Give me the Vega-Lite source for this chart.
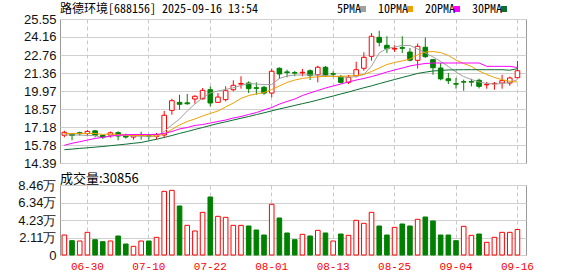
{
"$schema": "https://vega.github.io/schema/vega-lite/v6.json",
"padding": {"left": 17, "top": 2, "right": 0, "bottom": 0},
"background": "white",
"spacing": 1,
"config": {
  "view": {"stroke": "#999", "strokeWidth": 1},
  "axis": {"labelFont": "Liberation Sans", "labelColor": "#111", "ticks": false, "domain": false, "gridColor": "#d0d0d0", "labelFontSize": 13, "labelOverlap": false}
},
"datasets": {"k": [
{"d":"06-25","o":16.54,"h":16.89,"l":16.38,"c":16.77,"v":24170,"up":1,"ma5":16.56,"ma10":16.68,"ma20":15.76,"ma30":15.42},
{"d":"06-26","o":16.66,"h":16.72,"l":16.15,"c":16.52,"v":17320,"up":0,"ma5":16.56,"ma10":16.68,"ma20":15.92,"ma30":15.47},
{"d":"06-27","o":16.74,"h":16.82,"l":16.52,"c":16.66,"v":16920,"up":1,"ma5":16.56,"ma10":16.68,"ma20":16.04,"ma30":15.52},
{"d":"06-30","o":16.67,"h":16.95,"l":16.46,"c":16.84,"v":27400,"up":1,"ma5":16.52,"ma10":16.68,"ma20":16.17,"ma30":15.57},
{"d":"07-01","o":16.88,"h":16.95,"l":16.38,"c":16.53,"v":18530,"up":0,"ma5":16.52,"ma10":16.68,"ma20":16.29,"ma30":15.62},
{"d":"07-02","o":16.53,"h":16.56,"l":16.25,"c":16.38,"v":16120,"up":0,"ma5":16.33,"ma10":16.60,"ma20":16.38,"ma30":15.67},
{"d":"07-03","o":16.55,"h":16.83,"l":16.36,"c":16.73,"v":16920,"up":1,"ma5":16.52,"ma10":16.64,"ma20":16.47,"ma30":15.73},
{"d":"07-04","o":16.74,"h":16.84,"l":16.15,"c":16.48,"v":22970,"up":0,"ma5":16.52,"ma10":16.60,"ma20":16.54,"ma30":15.79},
{"d":"07-07","o":16.53,"h":16.66,"l":16.28,"c":16.40,"v":13300,"up":0,"ma5":16.52,"ma10":16.56,"ma20":16.58,"ma30":15.85},
{"d":"07-08","o":16.40,"h":16.60,"l":16.20,"c":16.53,"v":10480,"up":1,"ma5":16.48,"ma10":16.52,"ma20":16.60,"ma30":15.92},
{"d":"07-09","o":16.60,"h":16.82,"l":16.20,"c":16.52,"v":16920,"up":1,"ma5":16.46,"ma10":16.52,"ma20":16.60,"ma30":15.98},
{"d":"07-10","o":16.52,"h":16.64,"l":16.20,"c":16.44,"v":16920,"up":0,"ma5":16.46,"ma10":16.50,"ma20":16.60,"ma30":16.11},
{"d":"07-11","o":16.45,"h":16.72,"l":16.22,"c":16.60,"v":21350,"up":1,"ma5":16.46,"ma10":16.48,"ma20":16.60,"ma30":16.23},
{"d":"07-14","o":16.56,"h":18.42,"l":16.35,"c":18.09,"v":76950,"up":1,"ma5":16.83,"ma10":16.64,"ma20":16.68,"ma30":16.37},
{"d":"07-15","o":18.47,"h":19.37,"l":18.13,"c":19.22,"v":78160,"up":1,"ma5":17.34,"ma10":16.99,"ma20":16.83,"ma30":16.52},
{"d":"07-16","o":19.09,"h":19.68,"l":18.52,"c":18.94,"v":59230,"up":0,"ma5":17.80,"ma10":17.34,"ma20":17.03,"ma30":16.68},
{"d":"07-17","o":19.05,"h":19.74,"l":18.91,"c":18.98,"v":35860,"up":1,"ma5":18.42,"ma10":17.61,"ma20":17.14,"ma30":16.83},
{"d":"07-18","o":19.35,"h":19.64,"l":18.99,"c":19.56,"v":29010,"up":1,"ma5":18.96,"ma10":17.80,"ma20":17.30,"ma30":16.99},
{"d":"07-21","o":19.37,"h":20.20,"l":19.30,"c":20.02,"v":51570,"up":1,"ma5":19.43,"ma10":18.03,"ma20":17.37,"ma30":17.14},
{"d":"07-22","o":20.07,"h":20.33,"l":18.78,"c":19.04,"v":70100,"up":0,"ma5":19.82,"ma10":18.23,"ma20":17.49,"ma30":17.30},
{"d":"07-23","o":19.09,"h":19.81,"l":19.04,"c":19.50,"v":46740,"up":1,"ma5":19.97,"ma10":18.42,"ma20":17.61,"ma30":17.45},
{"d":"07-24","o":19.30,"h":20.33,"l":19.17,"c":19.99,"v":45530,"up":1,"ma5":20.09,"ma10":18.73,"ma20":17.72,"ma30":17.58},
{"d":"07-25","o":20.07,"h":20.80,"l":19.95,"c":20.41,"v":35860,"up":1,"ma5":20.22,"ma10":19.04,"ma20":17.88,"ma30":17.72},
{"d":"07-28","o":20.50,"h":21.11,"l":20.15,"c":20.55,"v":35860,"up":1,"ma5":20.40,"ma10":19.39,"ma20":17.99,"ma30":17.86},
{"d":"07-29","o":20.59,"h":20.72,"l":19.81,"c":20.15,"v":35050,"up":0,"ma5":20.55,"ma10":19.62,"ma20":18.15,"ma30":17.99},
{"d":"07-30","o":20.22,"h":20.64,"l":19.68,"c":20.18,"v":30220,"up":0,"ma5":20.51,"ma10":19.74,"ma20":18.30,"ma30":18.14},
{"d":"07-31","o":20.26,"h":20.36,"l":19.68,"c":19.81,"v":24170,"up":0,"ma5":20.47,"ma10":19.85,"ma20":18.50,"ma30":18.28},
{"d":"08-01","o":19.81,"h":21.70,"l":19.48,"c":21.50,"v":61240,"up":1,"ma5":20.47,"ma10":20.09,"ma20":18.69,"ma30":18.43},
{"d":"08-04","o":21.73,"h":21.80,"l":20.90,"c":21.29,"v":44720,"up":0,"ma5":20.94,"ma10":20.36,"ma20":18.96,"ma30":18.58},
{"d":"08-05","o":21.45,"h":21.62,"l":21.03,"c":21.40,"v":26590,"up":0,"ma5":21.13,"ma10":20.63,"ma20":19.16,"ma30":18.71},
{"d":"08-06","o":21.40,"h":21.52,"l":21.11,"c":21.36,"v":18530,"up":0,"ma5":21.21,"ma10":20.82,"ma20":19.35,"ma30":18.85},
{"d":"08-07","o":21.38,"h":21.68,"l":21.11,"c":21.42,"v":24980,"up":1,"ma5":21.21,"ma10":20.94,"ma20":19.62,"ma30":18.99},
{"d":"08-08","o":21.54,"h":21.64,"l":20.82,"c":21.16,"v":22970,"up":0,"ma5":21.21,"ma10":21.02,"ma20":19.82,"ma30":19.12},
{"d":"08-11","o":21.23,"h":21.93,"l":20.64,"c":21.81,"v":29810,"up":1,"ma5":21.21,"ma10":21.07,"ma20":20.01,"ma30":19.27},
{"d":"08-12","o":21.81,"h":21.91,"l":21.06,"c":21.16,"v":26590,"up":0,"ma5":21.17,"ma10":21.11,"ma20":20.20,"ma30":19.43},
{"d":"08-13","o":21.31,"h":21.50,"l":21.03,"c":21.27,"v":16920,"up":1,"ma5":21.11,"ma10":21.11,"ma20":20.36,"ma30":19.58},
{"d":"08-14","o":21.08,"h":21.21,"l":20.55,"c":20.64,"v":25380,"up":0,"ma5":21.06,"ma10":21.11,"ma20":20.51,"ma30":19.74},
{"d":"08-15","o":20.64,"h":21.21,"l":20.51,"c":21.03,"v":23770,"up":1,"ma5":21.03,"ma10":21.13,"ma20":20.67,"ma30":19.89},
{"d":"08-18","o":21.16,"h":22.24,"l":21.03,"c":21.62,"v":41900,"up":1,"ma5":21.09,"ma10":21.17,"ma20":20.82,"ma30":20.06},
{"d":"08-19","o":21.73,"h":22.97,"l":21.54,"c":22.58,"v":38280,"up":1,"ma5":21.25,"ma10":21.25,"ma20":20.94,"ma30":20.22},
{"d":"08-20","o":22.66,"h":24.46,"l":22.32,"c":24.21,"v":51570,"up":1,"ma5":21.91,"ma10":21.48,"ma20":21.09,"ma30":20.37},
{"d":"08-21","o":24.13,"h":24.64,"l":23.43,"c":23.74,"v":35050,"up":0,"ma5":22.92,"ma10":21.75,"ma20":21.25,"ma30":20.54},
{"d":"08-22","o":23.51,"h":24.21,"l":22.92,"c":23.25,"v":24170,"up":0,"ma5":23.26,"ma10":22.02,"ma20":21.44,"ma30":20.70},
{"d":"08-25","o":23.22,"h":23.51,"l":22.99,"c":23.27,"v":33440,"up":1,"ma5":23.38,"ma10":22.18,"ma20":21.60,"ma30":20.86},
{"d":"08-26","o":23.33,"h":24.21,"l":22.92,"c":23.28,"v":37470,"up":0,"ma5":23.50,"ma10":22.30,"ma20":21.75,"ma30":21.02},
{"d":"08-27","o":22.99,"h":23.30,"l":22.27,"c":22.36,"v":35050,"up":0,"ma5":23.50,"ma10":22.45,"ma20":21.91,"ma30":21.17},
{"d":"08-28","o":22.35,"h":23.65,"l":21.71,"c":23.43,"v":43110,"up":1,"ma5":23.23,"ma10":22.76,"ma20":22.02,"ma30":21.33},
{"d":"08-29","o":23.36,"h":24.11,"l":22.53,"c":22.63,"v":45930,"up":0,"ma5":22.92,"ma10":22.99,"ma20":22.10,"ma30":21.43},
{"d":"09-01","o":22.40,"h":22.45,"l":21.23,"c":21.77,"v":41100,"up":0,"ma5":22.61,"ma10":23.03,"ma20":22.14,"ma30":21.52},
{"d":"09-02","o":21.75,"h":22.14,"l":20.80,"c":20.91,"v":24170,"up":0,"ma5":22.26,"ma10":22.95,"ma20":22.14,"ma30":21.56},
{"d":"09-03","o":20.92,"h":21.37,"l":20.51,"c":20.77,"v":24170,"up":0,"ma5":21.87,"ma10":22.72,"ma20":22.14,"ma30":21.60},
{"d":"09-04","o":20.54,"h":20.98,"l":20.15,"c":20.50,"v":17320,"up":0,"ma5":21.44,"ma10":22.37,"ma20":22.14,"ma30":21.61},
{"d":"09-05","o":20.69,"h":20.85,"l":19.99,"c":20.66,"v":34650,"up":1,"ma5":21.09,"ma10":22.10,"ma20":22.14,"ma30":21.62},
{"d":"09-08","o":20.70,"h":20.92,"l":20.33,"c":20.66,"v":23770,"up":1,"ma5":20.86,"ma10":21.87,"ma20":22.14,"ma30":21.62},
{"d":"09-09","o":20.80,"h":20.92,"l":20.17,"c":20.33,"v":25380,"up":0,"ma5":20.67,"ma10":21.52,"ma20":22.14,"ma30":21.62},
{"d":"09-10","o":20.45,"h":20.67,"l":20.15,"c":20.48,"v":15310,"up":1,"ma5":20.55,"ma10":21.25,"ma20":21.88,"ma30":21.62},
{"d":"09-11","o":20.52,"h":20.67,"l":20.07,"c":20.56,"v":21350,"up":1,"ma5":20.51,"ma10":21.02,"ma20":21.88,"ma30":21.62},
{"d":"09-12","o":20.59,"h":21.23,"l":20.15,"c":20.77,"v":27400,"up":1,"ma5":20.55,"ma10":20.85,"ma20":21.88,"ma30":21.62},
{"d":"09-15","o":20.59,"h":21.09,"l":20.38,"c":20.98,"v":27400,"up":1,"ma5":20.63,"ma10":20.72,"ma20":21.88,"ma30":21.58},
{"d":"09-16","o":21.00,"h":22.30,"l":20.96,"c":21.54,"v":30856,"up":1,"ma5":20.85,"ma10":20.67,"ma20":21.79,"ma30":21.70}
]},
"vconcat": [
{
  "width": 466, "height": 144,
  "data": {"name": "k"},
  "title": {"text": "路德环境[688156] 2025-09-16 13:54", "anchor": "start", "frame": "group", "fontSize": 12, "fontWeight": "normal", "font": "'Noto Sans Mono CJK SC', 'Noto Sans CJK SC', monospace", "color": "#000", "offset": -3},
  "encoding": {
    "x": {"field": "d", "type": "ordinal", "sort": null,
      "scale": {"domain": ["06-25","06-26","06-27","06-30","07-01","07-02","07-03","07-04","07-07","07-08","07-09","07-10","07-11","07-14","07-15","07-16","07-17","07-18","07-21","07-22","07-23","07-24","07-25","07-28","07-29","07-30","07-31","08-01","08-04","08-05","08-06","08-07","08-08","08-11","08-12","08-13","08-14","08-15","08-18","08-19","08-20","08-21","08-22","08-25","08-26","08-27","08-28","08-29","09-01","09-02","09-03","09-04","09-05","09-08","09-09","09-10","09-11","09-12","09-15","09-16"], "paddingInner": 0, "paddingOuter": 0.34, "align": 0.1},
      "axis": {"values": ["06-30","07-10","07-22","08-01","08-13","08-25","09-04","09-16"], "labels": false, "ticks": false, "domain": false, "grid": true, "gridDash": [4, 3], "gridColor": "#c8c8c8", "title": null, "bandPosition": 0.5, "minExtent": 0, "maxExtent": 0}}
  },
  "layer": [
    {
      "mark": {"type": "rule", "strokeWidth": 1},
      "encoding": {
        "y": {"field": "h", "type": "quantitative", "scale": {"domain": [14.39, 25.55], "nice": false, "zero": false},
          "axis": {"values": [14.39, 15.78, 17.18, 18.57, 19.97, 21.36, 22.76, 24.16, 25.55], "tickCount": 9, "format": ".2f", "grid": true, "title": null, "labelPadding": 4, "labelOverlap": false}},
        "y2": {"field": "l"},
        "color": {"condition": {"test": "datum.c >= datum.o", "value": "#ff0000"}, "value": "#008000"}
      }
    },
    {
      "mark": {"type": "bar", "width": {"band": 0.6}, "strokeWidth": 1},
      "encoding": {
        "y": {"field": "o", "type": "quantitative"},
        "y2": {"field": "c"},
        "fill": {"condition": {"test": "datum.c >= datum.o", "value": "#ffffff"}, "value": "#008000"},
        "stroke": {"condition": {"test": "datum.c >= datum.o", "value": "#ff0000"}, "value": "#008000"}
      }
    },
    {
      "transform": [{"fold": ["ma5", "ma10", "ma20", "ma30"], "as": ["ma", "mv"]}],
      "mark": {"type": "line", "strokeWidth": 1},
      "encoding": {
        "y": {"field": "mv", "type": "quantitative"},
        "color": {"field": "ma", "type": "nominal",
          "scale": {"domain": ["ma5", "ma10", "ma20", "ma30"], "range": ["#a0a0a0", "#f0a000", "#ff00ff", "#0a6e30"]},
          "legend": {"orient": "none", "legendX": 297, "legendY": -16, "direction": "horizontal", "title": null,
            "symbolType": "square", "symbolSize": 4, "symbolStrokeWidth": 4,
            "labelFont": "'Noto Sans Mono CJK SC', 'Noto Sans CJK SC', monospace", "labelFontSize": 12, "labelColor": "#000",
            "labelExpr": "replace(datum.label, 'ma', '') + 'PMA'", "labelAlign": "right", "labelOffset": -8, "columnPadding": 5}}
      }
    }
  ]
},
{
  "width": 466, "height": 70,
  "data": {"name": "k"},
  "title": {"text": "成交量:30856", "anchor": "start", "frame": "group", "fontSize": 13, "fontWeight": "normal", "font": "Noto Sans CJK SC", "color": "#000", "offset": -7},
  "mark": {"type": "bar", "width": {"band": 0.6}, "strokeWidth": 1},
  "encoding": {
    "x": {"field": "d", "type": "ordinal", "sort": null,
      "scale": {"domain": ["06-25","06-26","06-27","06-30","07-01","07-02","07-03","07-04","07-07","07-08","07-09","07-10","07-11","07-14","07-15","07-16","07-17","07-18","07-21","07-22","07-23","07-24","07-25","07-28","07-29","07-30","07-31","08-01","08-04","08-05","08-06","08-07","08-08","08-11","08-12","08-13","08-14","08-15","08-18","08-19","08-20","08-21","08-22","08-25","08-26","08-27","08-28","08-29","09-01","09-02","09-03","09-04","09-05","09-08","09-09","09-10","09-11","09-12","09-15","09-16"], "paddingInner": 0, "paddingOuter": 0.34, "align": 0.1},
      "axis": {"values": ["06-30","07-10","07-22","08-01","08-13","08-25","09-04","09-16"], "labelAngle": 0, "labelFont": "Liberation Mono", "labelFontSize": 11, "labelColor": "#ff0000", "labelPadding": 5, "grid": true, "gridDash": [4, 3], "gridColor": "#c8c8c8", "title": null, "bandPosition": 0.5}},
    "y": {"field": "v", "type": "quantitative", "scale": {"domain": [0, 84600], "nice": false},
      "axis": {"values": [0, 21150, 42300, 63450, 84600], "tickCount": 5, "labelExpr": "datum.value == 0 ? '0' : datum.value == 21150 ? '2.11万' : datum.value == 42300 ? '4.23万' : datum.value == 63450 ? '6.34万' : '8.46万'", "grid": true, "title": null, "labelPadding": 4}},
    "fill": {"condition": {"test": "datum.up == 1", "value": "#ffffff"}, "value": "#008000"},
    "stroke": {"condition": {"test": "datum.up == 1", "value": "#ff0000"}, "value": "#008000"}
  }
}
]
}
